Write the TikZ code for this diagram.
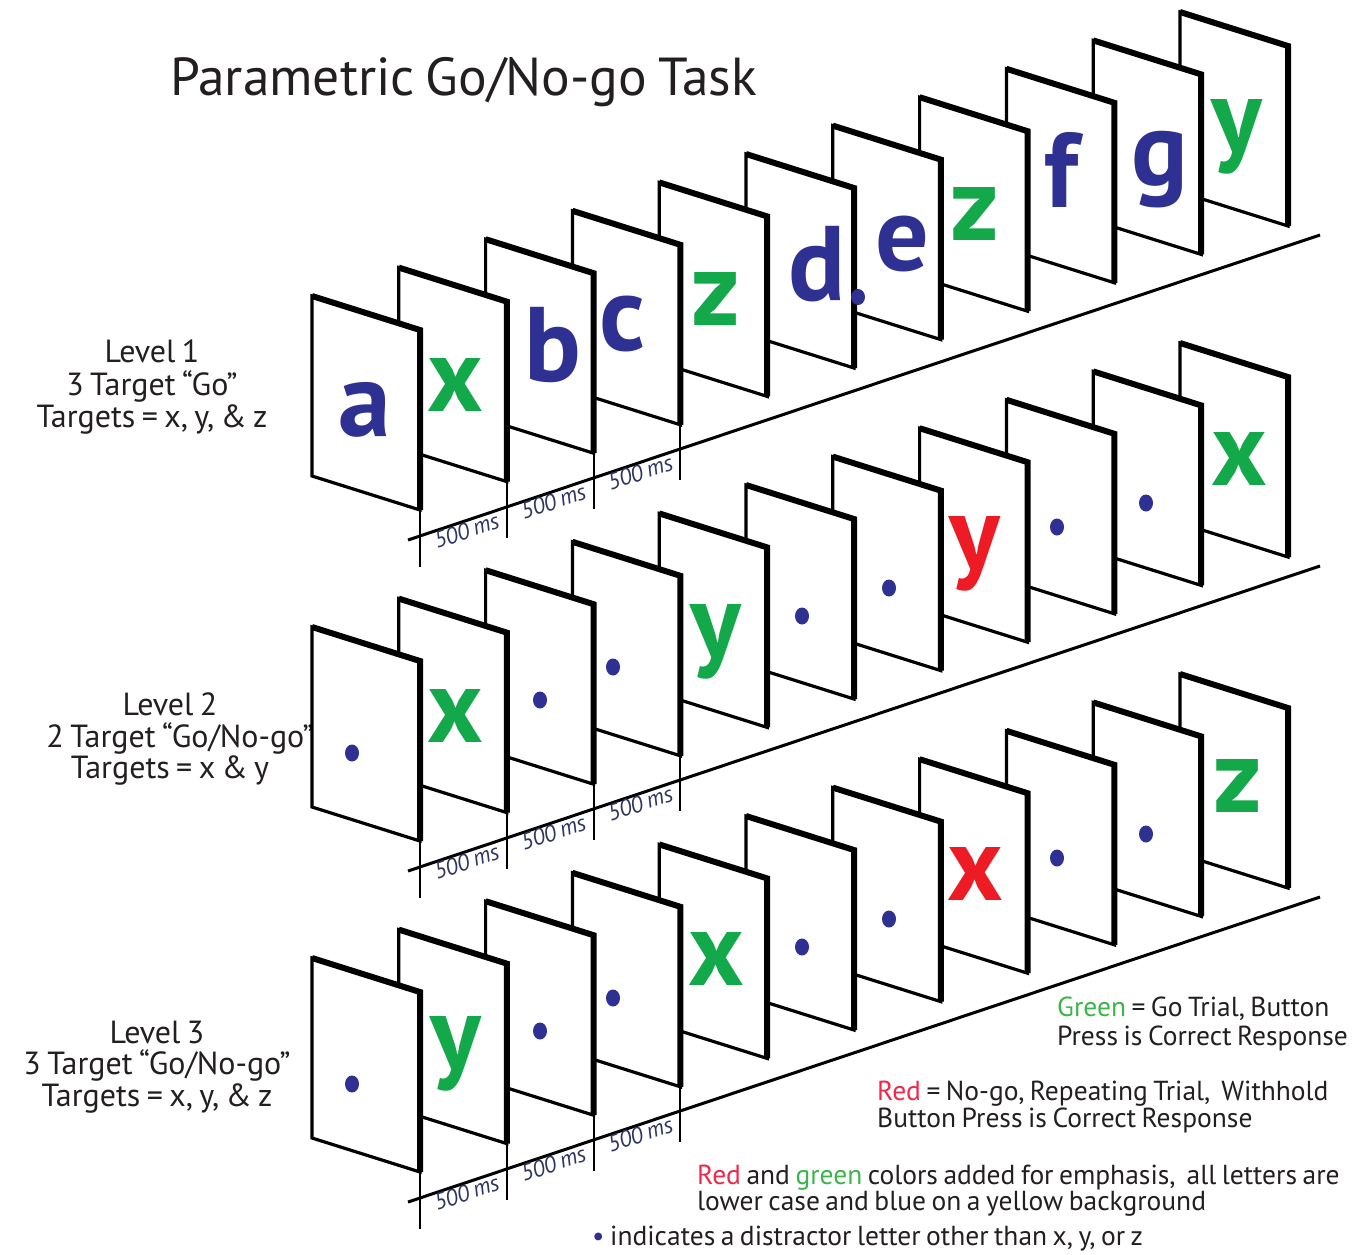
\documentclass[tikz,border=0pt]{standalone}
\usepackage{fontspec}
\setmainfont{PT Sans}[WordSpace=0.75]
\definecolor{lblue}{HTML}{2E3192}
\definecolor{lgreen}{HTML}{13A84A}
\definecolor{lred}{HTML}{ED1C24}
\definecolor{txt}{HTML}{231F20}
\definecolor{tgreen}{HTML}{3DB54A}
\definecolor{tred}{HTML}{F0284A}
\definecolor{mscol}{HTML}{2D3561}
\tikzset{
  cardpic/.pic={
    \filldraw[fill=white, draw=black, line width=3.2, line join=miter] (0,0) -- (108,34) -- (108,214) -- (0,180) -- cycle;
    \draw[line width=6, line join=miter] (0,0) -- (108,34) -- (108,214);
  },
  letter/.style={font={\fontsize{106}{110}\selectfont\bfseries}, anchor=base, inner sep=0pt},
  dotmark/.style={fill=lblue, draw=none},
  timeline/.style={line width=3},
  tick/.style={line width=2},
  ms/.style={font={\fontsize{23}{25}\selectfont\itshape}, text=mscol, inner sep=1pt},
  lvl/.style={font={\fontsize{32}{34}\selectfont}, text=txt, anchor=base, inner sep=0pt},
  legend/.style={font={\fontsize{27.5}{30}\selectfont}, text=txt, anchor=base west, inner sep=0pt},
  title/.style={font={\fontsize{53.5}{60}\selectfont}, text=txt, anchor=base west, inner sep=0pt}
}
\begin{document}
\begin{tikzpicture}[x=1pt,y=-1pt]
\useasboundingbox (0,0) rectangle (1369,1254);
\fill[white] (0,0) rectangle (1369,1254);

\node[title] (title) at (170,95) {Parametric Go/No-go Task};

% level labels
\node[lvl] (l1a) at (152,362) {Level 1};
\node[lvl] (l1b) at (152,395) {3 Target “Go”};
\node[lvl] (l1c) at (152,427) {Targets = x, y, \& z};
\node[lvl] (l2a) at (170,715) {Level 2};
\node[lvl] (l2b) at (180,747) {2 Target “Go/No-go”};
\node[lvl] (l2c) at (170,778) {Targets = x \& y};
\node[lvl] (l3a) at (157,1043) {Level 3};
\node[lvl] (l3b) at (157,1074) {3 Target “Go/No-go”};
\node[lvl] (l3c) at (157,1106) {Targets = x, y, \& z};

% timelines, ticks, labels
\foreach \L in {0,1,2}{
  \coordinate (ts-\L) at (408,{540+331*\L});
  \coordinate (te-\L) at (1320,{235+331*\L});
  \draw[timeline] (ts-\L) -- (te-\L);
  \foreach \i in {0,1,2,3}{
    \coordinate (ka-\L-\i) at ({420+86.8*\i},{510-28.4*\i+331*\L});
    \coordinate (km-\L-\i) at ({420+86.8*\i},{536-29.03*\i+331*\L});
    \coordinate (kb-\L-\i) at ({420+86.8*\i},{567-29.03*\i+331*\L});
    \draw[tick] (ka-\L-\i) -- (kb-\L-\i);
  }
  \foreach \i [evaluate=\i as \j using int(\i+1)] in {0,1,2}{
    \path (km-\L-\i) -- (km-\L-\j) node[midway, sloped, below, ms] (ms-\L-\i) {500 ms};
  }
  \foreach \i in {10,9,...,0}{
    \pic at ({312+86.8*\i},{296-28.4*\i+331*\L}) {cardpic};
  }
}

% level 1 letters
\node[letter, text=lblue]  (a1)  at (365,436) {a};
\node[letter, text=lgreen] (a2)  at (455,411) {x};
\node[letter, text=lblue]  (a3)  at (553,381) {b};
\node[letter, text=lblue]  (a4)  at (622,350) {c};
\node[letter, text=lgreen] (a5)  at (716,325) {z};
\node[letter, text=lblue]  (a6)  at (817,300) {d};
\fill[dotmark] (858,297) ellipse [x radius=7, y radius=8] coordinate (a6dot);
\node[letter, text=lblue]  (a7)  at (902,270) {e};
\node[letter, text=lgreen] (a8)  at (975,240) {z};
\node[letter, text=lblue]  (a9)  at (1062,207) {f};
\node[letter, text=lblue]  (a10) at (1160,185) {g};
\node[letter, text=lgreen] (a11) at (1237,152) {y};

% level 2 letters
\node[letter, text=lgreen] (b2)  at (455,742) {x};
\node[letter, text=lgreen] (b5)  at (716,657) {y};
\node[letter, text=lred]   (b8)  at (975,569) {y};
\node[letter, text=lgreen] (b11) at (1239,485) {x};

% level 3 letters
\node[letter, text=lgreen] (c2)  at (456,1069) {y};
\node[letter, text=lgreen] (c5)  at (716,985) {x};
\node[letter, text=lred]   (c8)  at (975,900) {x};
\node[letter, text=lgreen] (c11) at (1238,812) {z};

% distractor dots
\foreach \L in {0,1}{
  \foreach \x/\y in {352/753, 540/700, 613/667, 802/616, 889/588, 1057/527, 1146/503}{
    \fill[dotmark] (\x,{\y+331*\L}) ellipse [x radius=7, y radius=8.5];
  }
}

% legend
\node[legend] (g1) at (1057,1016) {\textcolor{tgreen}{Green} = Go Trial, Button};
\node[legend] (g2) at (1057,1045) {Press is Correct Response};
\node[legend] (r1) at (877,1100) {\textcolor{tred}{Red} = No-go, Repeating Trial,\ \ Withhold};
\node[legend] (r2) at (877,1127) {Button Press is Correct Response};
\node[legend] (n1) at (697,1184) {\textcolor{tred}{Red} and \textcolor{tgreen}{green} colors added for emphasis,\ \ all letters are};
\node[legend] (n2) at (697,1210) {lower case and blue on a yellow background};
\node[legend] (n3) at (592,1245) {\textcolor{lblue}{•} indicates a distractor letter other than x, y, or z};
\end{tikzpicture}
\end{document}
